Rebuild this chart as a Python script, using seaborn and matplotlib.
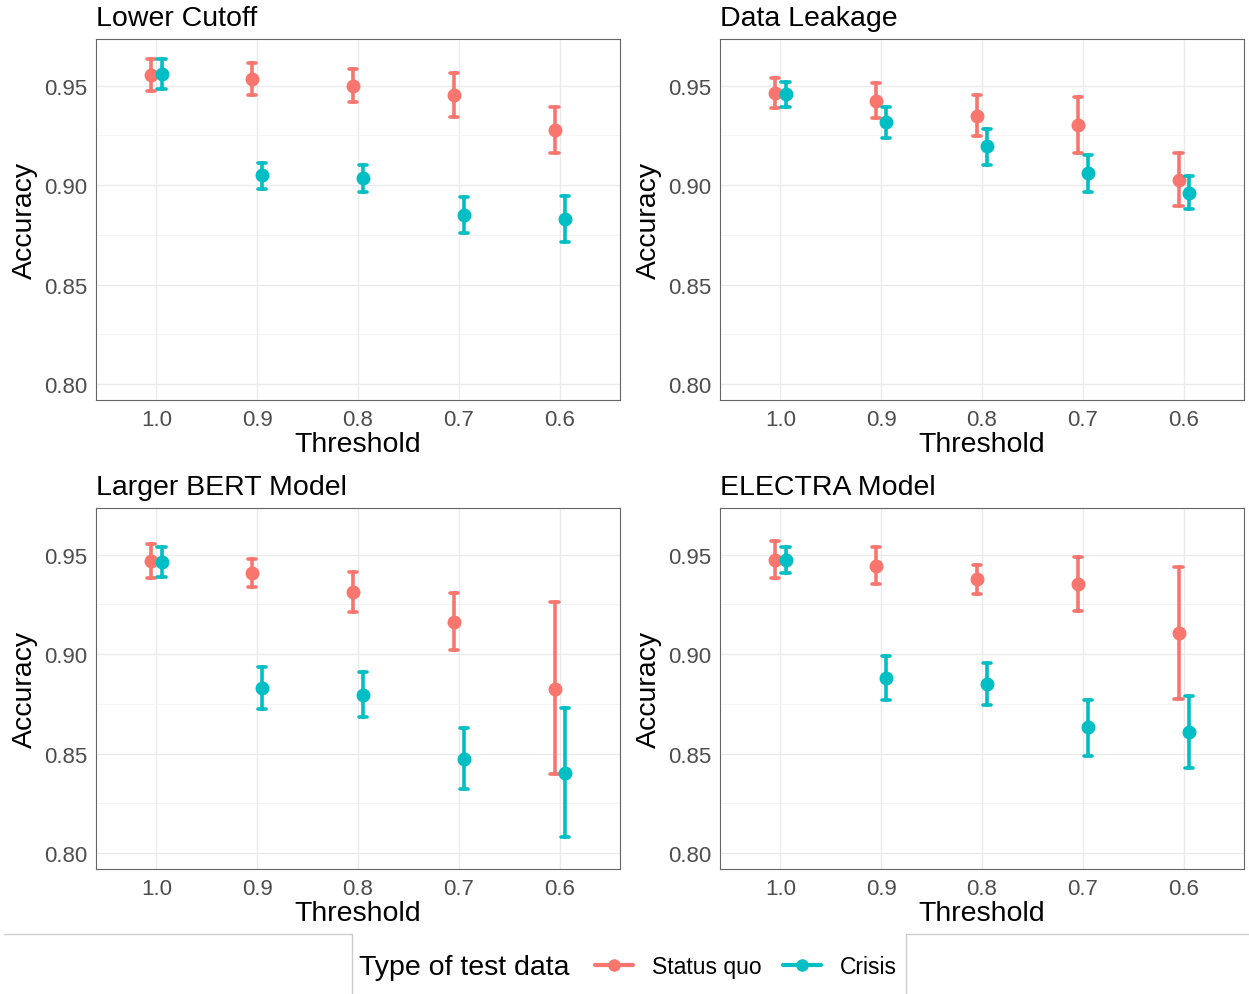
"""Accuracy vs. threshold, four robustness checks (2x2 pointrange panels)."""
import matplotlib
matplotlib.use("Agg")
import matplotlib.pyplot as plt
import pandas as pd
import seaborn as sns
from matplotlib.lines import Line2D
from matplotlib.ticker import MultipleLocator

THRESHOLDS = ["1.0", "0.9", "0.8", "0.7", "0.6"]
TYPES = ["Status quo", "Crisis"]
PANELS = ["Lower Cutoff", "Data Leakage", "Larger BERT Model", "ELECTRA Model"]

# each series: (point estimate, lower bound, upper bound) per threshold
cutoff_sq = ([0.9553, 0.9535, 0.9500, 0.9452, 0.9279],
             [0.9473, 0.9455, 0.9420, 0.9341, 0.9164],
             [0.9632, 0.9615, 0.9582, 0.9564, 0.9395])
cutoff_cr = ([0.9559, 0.9049, 0.9037, 0.8851, 0.8829],
             [0.9485, 0.8982, 0.8968, 0.8759, 0.8716],
             [0.9632, 0.9114, 0.9102, 0.8943, 0.8948])

leak_sq = ([0.9463, 0.9423, 0.9350, 0.9303, 0.9027],
           [0.9386, 0.9338, 0.9249, 0.9162, 0.8896],
           [0.9540, 0.9512, 0.9452, 0.9445, 0.9162])
leak_cr = ([0.9457, 0.9316, 0.9196, 0.9060, 0.8962],
           [0.9393, 0.9237, 0.9104, 0.8965, 0.8878],
           [0.9518, 0.9393, 0.9284, 0.9152, 0.9045])

bert_sq = ([0.9467, 0.9406, 0.9313, 0.9162, 0.8827],
           [0.9384, 0.9336, 0.9212, 0.9020, 0.8397],
           [0.9554, 0.9478, 0.9413, 0.9306, 0.9261])
bert_cr = ([0.9463, 0.8829, 0.8797, 0.8474, 0.8405],
           [0.9390, 0.8722, 0.8683, 0.8320, 0.8082],
           [0.9539, 0.8936, 0.8911, 0.8631, 0.8730])

electra_sq = ([0.9475, 0.9445, 0.9376, 0.9353, 0.9105],
              [0.9384, 0.9354, 0.9304, 0.9215, 0.8773],
              [0.9567, 0.9537, 0.9450, 0.9488, 0.9438])
electra_cr = ([0.9472, 0.8882, 0.8849, 0.8635, 0.8611],
              [0.9406, 0.8771, 0.8745, 0.8486, 0.8430],
              [0.9539, 0.8992, 0.8956, 0.8768, 0.8792])

SERIES = {
    "Lower Cutoff": (cutoff_sq, cutoff_cr),
    "Data Leakage": (leak_sq, leak_cr),
    "Larger BERT Model": (bert_sq, bert_cr),
    "ELECTRA Model": (electra_sq, electra_cr),
}

COLORS = {"Status quo": "#F8766D", "Crisis": "#00BFC4"}


def long_frame(panel):
    # three rows per point (lo, mid, hi): median -> estimate, 100% interval -> bounds
    rows = []
    for typ, (mid, lo, hi) in zip(TYPES, SERIES[panel]):
        for i, thr in enumerate(THRESHOLDS):
            for v in (lo[i], mid[i], hi[i]):
                rows.append({"threshold": thr, "type": typ, "accuracy": v})
    return pd.DataFrame(rows)


sns.set_theme(style="white")
plt.rcParams["font.family"] = ["Liberation Sans", "DejaVu Sans"]
plt.rcParams["text.color"] = "black"
plt.rcParams["axes.labelcolor"] = "black"

fig = plt.figure(figsize=(12.49, 9.95), dpi=100)
W, H = 1249, 995
boxes = [(96, 40), (720, 40), (96, 509), (720, 509)]

for panel, (x0, y0) in zip(PANELS, boxes):
    ax = fig.add_axes([x0 / W, 1 - (y0 + 361) / H, 524 / W, 361 / H])
    sns.pointplot(
        data=long_frame(panel), x="threshold", y="accuracy", hue="type",
        order=THRESHOLDS, hue_order=TYPES, palette=COLORS,
        estimator="median", errorbar=("pi", 100),
        dodge=0.1, linestyle="none", markers="o", markersize=8,
        capsize=0.08, err_kws={"linewidth": 2.6}, legend=False, ax=ax,
    )
    ax.set_xlim(-0.6, 4.6)
    ax.set_ylim(0.792, 0.9735)
    ax.yaxis.set_major_locator(MultipleLocator(0.05))
    ax.yaxis.set_minor_locator(MultipleLocator(0.025))
    ax.yaxis.set_major_formatter(lambda v, p: f"{v:.2f}")
    ax.set_axisbelow(True)
    ax.grid(True, which="major", color="#EBEBEB", linewidth=1.0)
    ax.grid(True, which="minor", axis="y", color="#F2F2F2", linewidth=0.6)
    for sp in ax.spines.values():
        sp.set_color("#666666")
        sp.set_linewidth(0.8)
    ax.tick_params(axis="both", which="major", length=3.5, width=0.8,
                   color="#333333", labelsize=16, labelcolor="#4D4D4D", pad=3)
    ax.tick_params(axis="y", which="minor", length=0)
    ax.set_xlabel("Threshold", fontsize=20.5, labelpad=1, color="black")
    ax.set_ylabel("Accuracy", fontsize=20.5, labelpad=4, color="black")
    ax.set_title(panel, loc="left", fontsize=20.5, pad=10, color="black")

# legend strip at the bottom
fig.text(359 / W, 1 - 968 / H, "Type of test data", fontsize=20.5,
         ha="left", va="center", color="black")
handles = [Line2D([], [], color=COLORS[t], marker="o", markersize=8,
                  linewidth=3) for t in TYPES]
fig.legend(handles, TYPES, loc="center left", ncol=2,
           bbox_to_anchor=(595 / W, 1 - 968 / H), frameon=False,
           fontsize=16.5, handlelength=1.66, handletextpad=0.83,
           columnspacing=0.92, borderpad=0, borderaxespad=0,
           labelcolor="black")

gray = "#CCCCCC"
for xs, ys in [((4, 352), (935, 935)), ((352, 352), (935, 995)),
               ((906, 906), (935, 995)), ((906, 1249), (935, 935))]:
    fig.add_artist(Line2D([x / W for x in xs], [1 - y / H for y in ys],
                          color=gray, linewidth=1.0))

fig.savefig("out.png", dpi=100)
